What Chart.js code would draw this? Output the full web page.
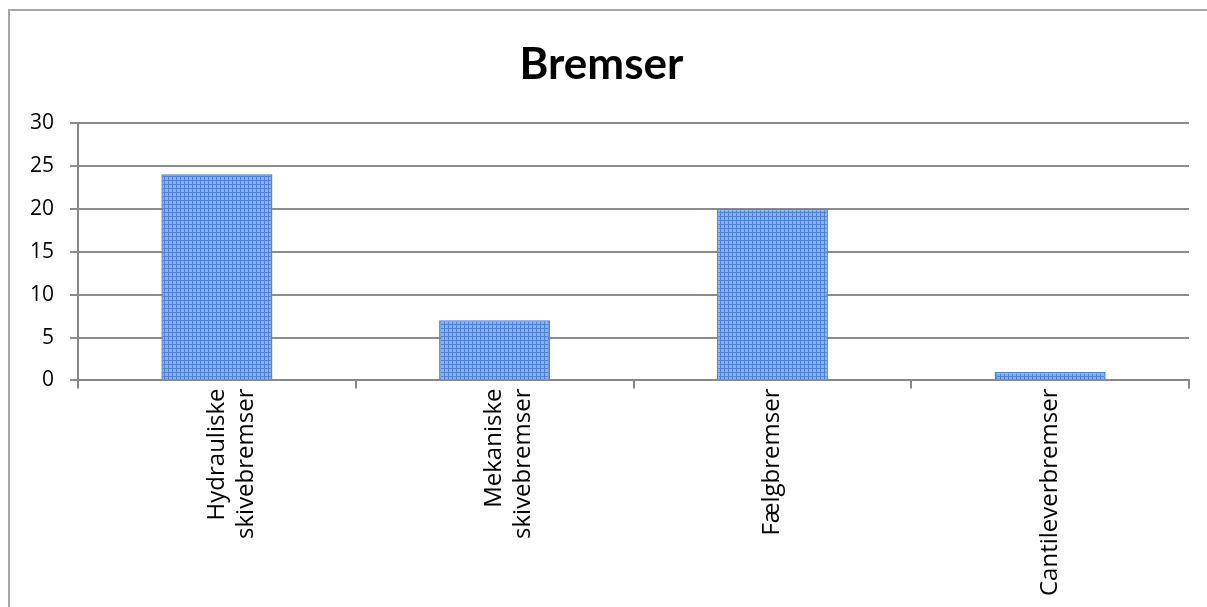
<!DOCTYPE html>
<html>
<head>
<meta charset="utf-8">
<script src="https://cdn.jsdelivr.net/npm/chart.js@4/dist/chart.umd.min.js"></script>
<style>
  body { margin: 0; background: #fff; overflow: hidden; }
  #frame { position: absolute; left: 8px; top: 9px; width: 1400px; height: 800px;
           border-left: 2px solid #a6a6a6; border-top: 2px solid #a6a6a6; }
  #wrap { position: absolute; left: 0; top: 0; width: 1207px; height: 607px; }
</style>
</head>
<body>
<div id="frame"></div>
<div id="wrap"><canvas id="barChart" width="1207" height="607"></canvas></div>
<script>
const categories = [
    ['Hydrauliske', 'skivebremser'],
    ['Mekaniske', 'skivebremser'],
    'Fælgbremser',
    'Cantileverbremser'
];
const counts = [24, 7, 20, 1];
const yTicks = [0, 5, 10, 15, 20, 25, 30];

// small grid pattern like the Excel fill
function makePattern() {
    const tile = document.createElement('canvas');
    tile.width = 4;
    tile.height = 4;
    const t = tile.getContext('2d');
    t.fillStyle = '#8bb0ec';
    t.fillRect(0, 0, 4, 4);
    t.fillStyle = '#4d82d6';
    t.fillRect(0, 0, 4, 1);
    t.fillRect(0, 0, 1, 4);
    return t.createPattern(tile, 'repeat');
}

const ctx = document.getElementById('barChart');
const titleFont = 'Lato, Carlito, "Liberation Sans", sans-serif';
const tickFont = '"Open Sans", "Noto Sans", sans-serif';

const barChart = new Chart(ctx, {
    type: 'bar',
    data: {
        labels: categories,
        datasets: [{
            label: 'Bremser',
            data: counts,
            backgroundColor: makePattern(),
            borderColor: '#4f84d6',
            borderWidth: 1.5,
            barPercentage: 0.4,
            categoryPercentage: 1
        }]
    },
    options: {
        responsive: false,
        animation: false,
        layout: { padding: { left: 14, right: 18, top: 0, bottom: 11 } },
        plugins: {
            legend: { display: false },
            tooltip: { enabled: false },
            title: {
                display: true,
                text: 'Bremser',
                color: '#000',
                font: { family: titleFont, size: 44, weight: 'bold' },
                padding: { top: 38, bottom: 32 }
            }
        },
        scales: {
            x: {
                offset: true,
                grid: { display: true, drawOnChartArea: false, drawTicks: true, tickLength: 8, color: '#888', lineWidth: 2, offset: true },
                border: { display: true, color: '#888', width: 2 },
                ticks: { color: '#000', font: { family: tickFont, size: 24 }, minRotation: 90, maxRotation: 90, padding: 0 }
            },
            y: {
                min: 0,
                max: 30,
                afterBuildTicks: axis => { axis.ticks = yTicks.map(v => ({ value: v })); },
                grid: { color: '#8c8c8c', lineWidth: 2, tickLength: 8 },
                border: { display: true, color: '#888', width: 2 },
                ticks: { color: '#000', font: { family: tickFont, size: 21 }, padding: 16 }
            }
        }
    }
});
</script>
</body>
</html>
